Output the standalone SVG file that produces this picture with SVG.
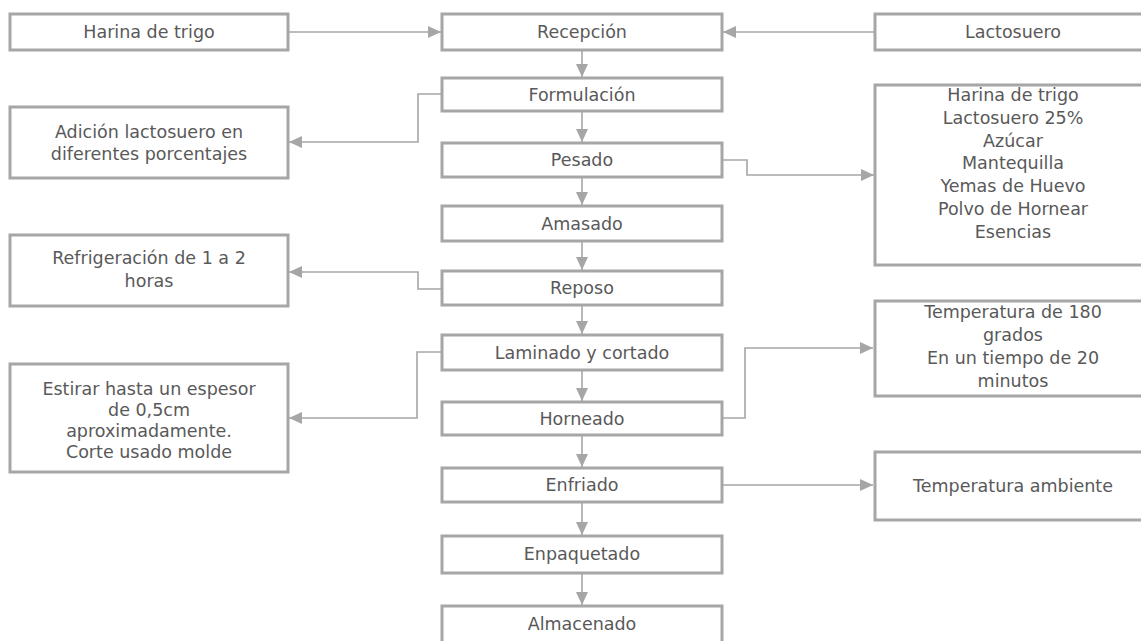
<svg xmlns="http://www.w3.org/2000/svg" width="1141" height="641" viewBox="0 0 1141 641">
  <style>
    .box { fill: #ffffff; stroke: #a6a6a6; stroke-width: 3; }
    .lbl { font-family: "DejaVu Sans", "Open Sans", sans-serif; font-size: 17.5px; fill: #595959; text-anchor: middle; }
    .wire { fill: none; stroke: #a6a6a6; stroke-width: 1.6; }
  </style>
  <defs>
    <marker id="arrow" markerUnits="userSpaceOnUse" markerWidth="14" markerHeight="14" refX="13" refY="7" orient="auto">
      <path d="M0,1 L13,7 L0,13 Z" fill="#a6a6a6"/>
    </marker>
  </defs>
  <rect width="1141" height="641" fill="#ffffff"/>

  <!-- connectors -->
  <g id="connectors">
    <line class="wire" x1="288" y1="32" x2="441" y2="32" marker-end="url(#arrow)"/>
    <line class="wire" x1="875" y1="32" x2="723" y2="32" marker-end="url(#arrow)"/>
    <line class="wire" x1="582" y1="50" x2="582" y2="77" marker-end="url(#arrow)"/>
    <line class="wire" x1="582" y1="111" x2="582" y2="142" marker-end="url(#arrow)"/>
    <line class="wire" x1="582" y1="177" x2="582" y2="205" marker-end="url(#arrow)"/>
    <line class="wire" x1="582" y1="241" x2="582" y2="270" marker-end="url(#arrow)"/>
    <line class="wire" x1="582" y1="305" x2="582" y2="334" marker-end="url(#arrow)"/>
    <line class="wire" x1="582" y1="370" x2="582" y2="401" marker-end="url(#arrow)"/>
    <line class="wire" x1="582" y1="435" x2="582" y2="467" marker-end="url(#arrow)"/>
    <line class="wire" x1="582" y1="502" x2="582" y2="535" marker-end="url(#arrow)"/>
    <line class="wire" x1="582" y1="573" x2="582" y2="605" marker-end="url(#arrow)"/>
    <polyline class="wire" points="442,94 418,94 418,142 289,142" marker-end="url(#arrow)"/>
    <polyline class="wire" points="722,160 747,160 747,175 874,175" marker-end="url(#arrow)"/>
    <polyline class="wire" points="442,289 418,289 418,272 289,272" marker-end="url(#arrow)"/>
    <polyline class="wire" points="442,352 417,352 417,418 289,418" marker-end="url(#arrow)"/>
    <polyline class="wire" points="722,418 745,418 745,348 873,348" marker-end="url(#arrow)"/>
    <line class="wire" x1="722" y1="485" x2="873" y2="485" marker-end="url(#arrow)"/>
  </g>

  <!-- main process column -->
  <g id="recepcion"><rect class="box" x="442" y="14" width="280" height="36"/><text class="lbl" x="582" y="38">Recepción</text></g>
  <g id="formulacion"><rect class="box" x="442" y="78" width="280" height="33"/><text class="lbl" x="582" y="101">Formulación</text></g>
  <g id="pesado"><rect class="box" x="442" y="143" width="280" height="34"/><text class="lbl" x="582" y="166">Pesado</text></g>
  <g id="amasado"><rect class="box" x="442" y="206" width="280" height="35"/><text class="lbl" x="582" y="230">Amasado</text></g>
  <g id="reposo"><rect class="box" x="442" y="271" width="280" height="34"/><text class="lbl" x="582" y="294">Reposo</text></g>
  <g id="laminado"><rect class="box" x="442" y="335" width="280" height="35"/><text class="lbl" x="582" y="359">Laminado y cortado</text></g>
  <g id="horneado"><rect class="box" x="442" y="402" width="280" height="33"/><text class="lbl" x="582" y="425">Horneado</text></g>
  <g id="enfriado"><rect class="box" x="442" y="468" width="280" height="34"/><text class="lbl" x="582" y="491">Enfriado</text></g>
  <g id="enpaquetado"><rect class="box" x="442" y="536" width="280" height="37"/><text class="lbl" x="582" y="560">Enpaquetado</text></g>
  <g id="almacenado"><rect class="box" x="442" y="606" width="280" height="45"/><text class="lbl" x="582" y="630">Almacenado</text></g>

  <!-- inputs and notes, left side -->
  <g id="harina"><rect class="box" x="10" y="14" width="278" height="36"/><text class="lbl" x="149" y="38">Harina de trigo</text></g>
  <g id="adicion"><rect class="box" x="10" y="107" width="278" height="71"/>
    <text class="lbl" x="149" y="138">Adición lactosuero en</text>
    <text class="lbl" x="149" y="160">diferentes porcentajes</text></g>
  <g id="refrigeracion"><rect class="box" x="10" y="235" width="278" height="71"/>
    <text class="lbl" x="149" y="264">Refrigeración de 1 a 2</text>
    <text class="lbl" x="149" y="287">horas</text></g>
  <g id="estirar"><rect class="box" x="10" y="364" width="278" height="108"/>
    <text class="lbl" x="149" y="395">Estirar hasta un espesor</text>
    <text class="lbl" x="149" y="416">de 0,5cm</text>
    <text class="lbl" x="149" y="437">aproximadamente.</text>
    <text class="lbl" x="149" y="458">Corte usado molde</text></g>

  <!-- inputs and notes, right side -->
  <g id="lactosuero"><rect class="box" x="875" y="14" width="276" height="36"/><text class="lbl" x="1013" y="38">Lactosuero</text></g>
  <g id="ingredientes"><rect class="box" x="875" y="85" width="276" height="180"/>
    <text class="lbl" x="1013" y="101">Harina de trigo</text>
    <text class="lbl" x="1013" y="124">Lactosuero 25%</text>
    <text class="lbl" x="1013" y="147">Azúcar</text>
    <text class="lbl" x="1013" y="169">Mantequilla</text>
    <text class="lbl" x="1013" y="192">Yemas de Huevo</text>
    <text class="lbl" x="1013" y="215">Polvo de Hornear</text>
    <text class="lbl" x="1013" y="238">Esencias</text></g>
  <g id="horno"><rect class="box" x="875" y="301" width="276" height="95"/>
    <text class="lbl" x="1013" y="318">Temperatura de 180</text>
    <text class="lbl" x="1013" y="341">grados</text>
    <text class="lbl" x="1013" y="364">En un tiempo de 20</text>
    <text class="lbl" x="1013" y="387">minutos</text></g>
  <g id="ambiente"><rect class="box" x="875" y="452" width="276" height="68"/><text class="lbl" x="1013" y="492">Temperatura ambiente</text></g>
</svg>
